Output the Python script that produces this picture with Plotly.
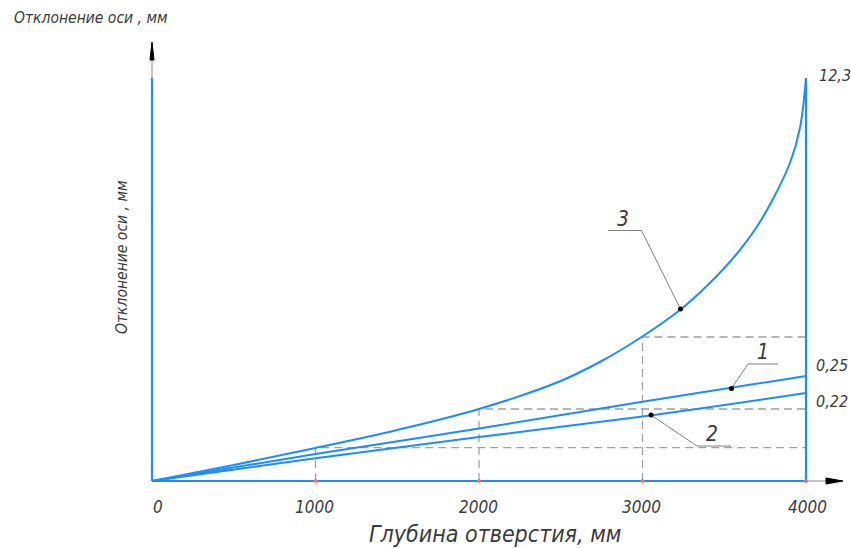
import plotly.graph_objects as go

# ---------------- data ----------------
depth_ticks = [0, 1000, 2000, 3000, 4000]
tick_labels = ["0", "1000", "2000", "3000", "4000"]

# drawing is not to scale: heights are in drawing units above the baseline
curve1_x = [0, 1000, 2000, 3000, 4000]
curve1_y = [0, 27, 52.5, 79.3, 105]

curve2_x = [0, 1000, 2000, 3000, 4000]
curve2_y = [0, 22.7, 44, 64.5, 88]

curve3_x = [0, 500, 1000, 1500, 2000, 2500, 2750, 2985, 3229, 3393, 3576, 3699, 3798, 3902, 3963, 4000]
curve3_y = [0, 16, 33, 51, 72, 100, 120, 143, 171, 195, 227, 254, 282, 318, 353, 403]

end_labels = ["0,25", "0,22", "12,3"]
curve_numbers = ["1", "2", "3"]
# dashed reference levels (height of curve 3 at 1000, 2000, 3000)
ref_x = [1000, 2000, 3000]
ref_y = [33.3, 72, 144]
axis_top = 403

x_title = "Глубина отверстия, мм"
y_title = "Отклонение оси , мм"

# ---------------- styling ----------------
W, H = 851, 548
X0PX, XPX_PER = 152, 0.1635   # pixel of x=0, px per unit
Y0PX = 481                    # pixel of y=0 (1 unit = 1 px)
BLUE = "#1e8cff"
DASH = "#a0a0a0"
LEAD = "#808080"
TXT = "#3a3a3a"
FONT = "Liberation Sans Narrow, DejaVu Sans Condensed, Arial Narrow, sans-serif"

def dx(px):
    return (px - X0PX) / XPX_PER

def dy(py):
    return Y0PX - py

fig = go.Figure()

# dashed reference lines
for xv, yv in zip(ref_x, ref_y):
    fig.add_trace(go.Scatter(x=[xv, xv, depth_ticks[-1]], y=[0, yv, yv], mode="lines",
                             line=dict(color=DASH, width=1.3, dash="8px,5px"),
                             hoverinfo="skip", showlegend=False))

# curves
for cx, cy in [(curve1_x, curve1_y), (curve2_x, curve2_y), (curve3_x, curve3_y)]:
    fig.add_trace(go.Scatter(x=cx, y=cy, mode="lines", line=dict(color=BLUE, width=2, shape="spline", smoothing=1.0),
                             hoverinfo="skip", showlegend=False))

# blue frame: baseline, left and right verticals
fig.add_trace(go.Scatter(x=[0, 0, None, depth_ticks[0], depth_ticks[-1], None, depth_ticks[-1], depth_ticks[-1]],
                         y=[0, axis_top, None, 0, 0, None, 0, axis_top], mode="lines",
                         line=dict(color=BLUE, width=2.2), hoverinfo="skip", showlegend=False))

# red tick marks on baseline
fig.add_trace(go.Scatter(x=depth_ticks[1:], y=[0] * 4, mode="markers",
                         marker=dict(color="#ff7070", size=4, symbol="circle"),
                         hoverinfo="skip", showlegend=False))

# axis arrows (gray line + black head)
fig.add_trace(go.Scatter(x=[0, 0], y=[axis_top, dy(60)], mode="lines", line=dict(color="#888", width=1),
                         hoverinfo="skip", showlegend=False))
fig.add_trace(go.Scatter(x=[depth_ticks[-1], dx(827)], y=[0, 0], mode="lines", line=dict(color="#888", width=1),
                         hoverinfo="skip", showlegend=False))
fig.add_shape(type="path", xref="x", yref="y",
              path=f"M {dx(150)} {dy(60)} L {dx(152)} {dy(42)} L {dx(154)} {dy(60)} Z",
              fillcolor="black", line=dict(color="black", width=1))
fig.add_shape(type="path", xref="x", yref="y",
              path=f"M {dx(826)} {dy(478)} L {dx(843)} {dy(481)} L {dx(826)} {dy(484)} Z",
              fillcolor="black", line=dict(color="black", width=1))

# leaders for curve numbers
leaders = [
    ([dx(731.5), dx(748), dx(778)], [dy(388.5), dy(364), dy(364)]),   # 1
    ([dx(651), dx(697), dx(731)], [dy(415), dy(446), dy(446)]),       # 2
    ([dx(680.5), dx(641.5), dx(608)], [dy(309), dy(230.5), dy(230.5)]),  # 3
]
for lx, ly in leaders:
    fig.add_trace(go.Scatter(x=lx, y=ly, mode="lines", line=dict(color=LEAD, width=1),
                             hoverinfo="skip", showlegend=False))
    fig.add_trace(go.Scatter(x=[lx[0]], y=[ly[0]], mode="markers", marker=dict(color="black", size=5),
                             hoverinfo="skip", showlegend=False))

def txt(x, y, s, size, angle=0):
    fig.add_annotation(x=x, y=y, xref="x", yref="y", text=s, showarrow=False, textangle=angle,
                       font=dict(family=FONT, size=size, color=TXT, style="italic"))

# tick labels
tick_px = [158, 314, 478, 641, 807]
for p, s in zip(tick_px, tick_labels):
    txt(dx(p), dy(507), s, 17)

# end labels
txt(dx(832), dy(365), end_labels[0], 16)
txt(dx(832), dy(401), end_labels[1], 16)
txt(dx(835), dy(75), end_labels[2], 16)

# curve numbers
txt(dx(763), dy(352), curve_numbers[0], 21)
txt(dx(712), dy(434), curve_numbers[1], 21)
txt(dx(623), dy(219), curve_numbers[2], 21)

# titles
txt(dx(495), dy(534), x_title, 23)
txt(dx(90), dy(18), y_title, 15.5)
txt(dx(122), dy(258), y_title, 15.5, angle=-90)

fig.update_layout(
    width=W, height=H, margin=dict(l=0, r=0, t=0, b=0),
    paper_bgcolor="white", plot_bgcolor="white",
    xaxis=dict(range=[dx(0), dx(W)], visible=False, fixedrange=True),
    yaxis=dict(range=[dy(H), dy(0)], visible=False, fixedrange=True),
    showlegend=False,
)

fig.write_html("out.html", config={"displayModeBar": False},
               post_script="document.body.style.margin='0';document.body.style.overflow='hidden';")
